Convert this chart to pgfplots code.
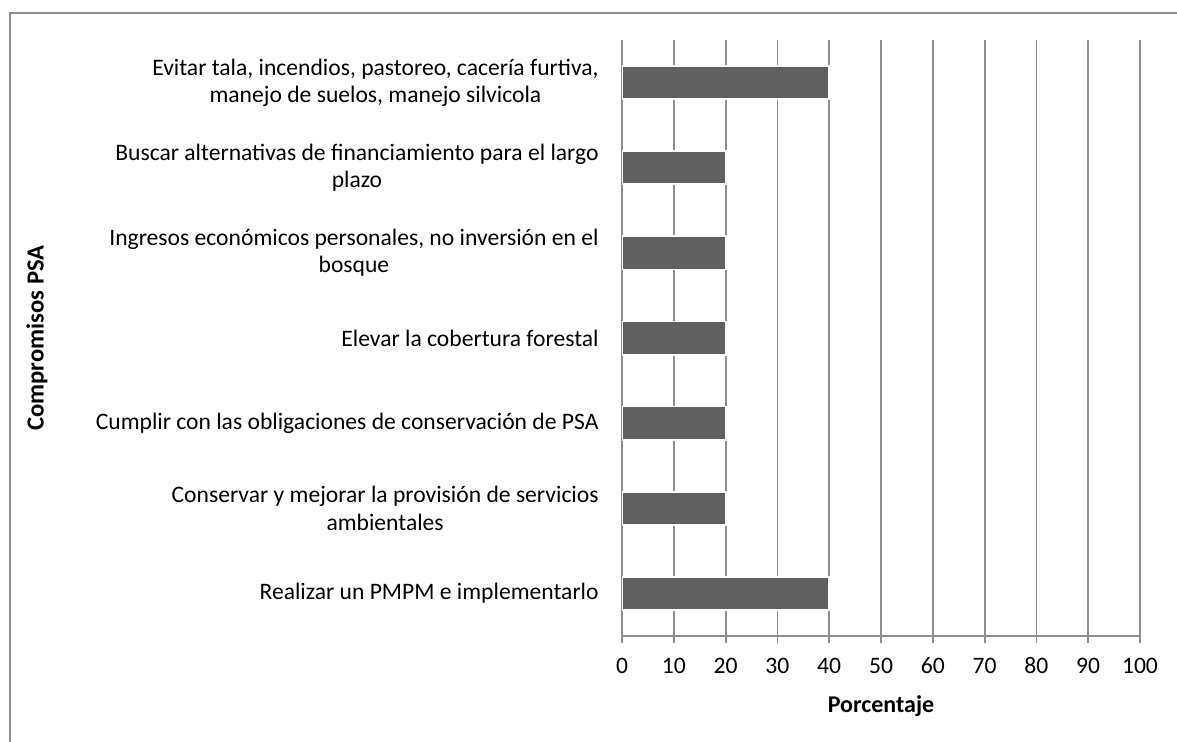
\documentclass[border=0pt]{standalone}
\usepackage{fontspec}
\setmainfont{Carlito}
\usepackage{pgfplots}
\pgfplotsset{compat=1.18}
\definecolor{gridgray}{HTML}{8E8E8E}
\definecolor{bargray}{HTML}{606060}
\begin{document}
\begin{tikzpicture}[x=1pt,y=1pt]
\useasboundingbox (0,0) rectangle (588.5,370.5);
\begin{scope}
\clip (0,0) rectangle (588.5,370.5);
\draw[gridgray, line width=0.9pt] (5,-5) -- (5,364) -- (600,364);
\end{scope}
\begin{axis}[
  at={(311pt,52.5pt)}, anchor=south west,
  scale only axis, width=259pt, height=298pt,
  xmin=0, xmax=100, xtick={0,10,...,100},
  ymin=-0.5, ymax=6.5, ytick={0,...,6},
  yticklabels={
    {Realizar un PMPM e implementarlo},
    {Conservar y mejorar la provisión de servicios\\ambientales},
    {Cumplir con las obligaciones de conservación de PSA},
    {Elevar la cobertura forestal},
    {Ingresos económicos personales, no inversión en el\\bosque},
    {Buscar alternativas de financiamiento para el largo\\plazo},
    {Evitar tala, incendios, pastoreo, cacería furtiva,\\manejo de suelos, manejo silvicola}},
  axis x line*=bottom, axis y line*=left,
  axis line style={gridgray, line width=0.9pt},
  xmajorgrids, grid style={gridgray, line width=0.9pt},
  tick align=outside, major tick length=3.5pt,
  xtick style={gridgray, line width=0.9pt},
  ytick style={draw=none},
  /pgf/number format/assume math mode=true,
  tick label style={font=\fontsize{11.8}{13.6}\selectfont, text=black},
  xticklabel style={anchor=center, yshift=-11.5pt},
  yticklabel style={align=center, anchor=east, inner sep=0pt, xshift=-8pt},
  xlabel={\textbf{Porcentaje}},
  ylabel={\textbf{Compromisos PSA}},
  every axis x label/.style={at={(axis description cs:0.5,0)}, yshift=-35pt, anchor=center, font=\fontsize{12}{14}\selectfont},
  every axis y label/.style={at={(axis description cs:0,0.5)}, xshift=-292.5pt, rotate=90, anchor=center, font=\fontsize{12.3}{14}\selectfont},
  xbar, bar width=0.39,
]
\addplot[fill=bargray, draw=white, line width=0.9pt] coordinates {
  (40,0) (20,1) (20,2) (20,3) (20,4) (20,5) (40,6)
};
\end{axis}
\end{tikzpicture}
\end{document}
